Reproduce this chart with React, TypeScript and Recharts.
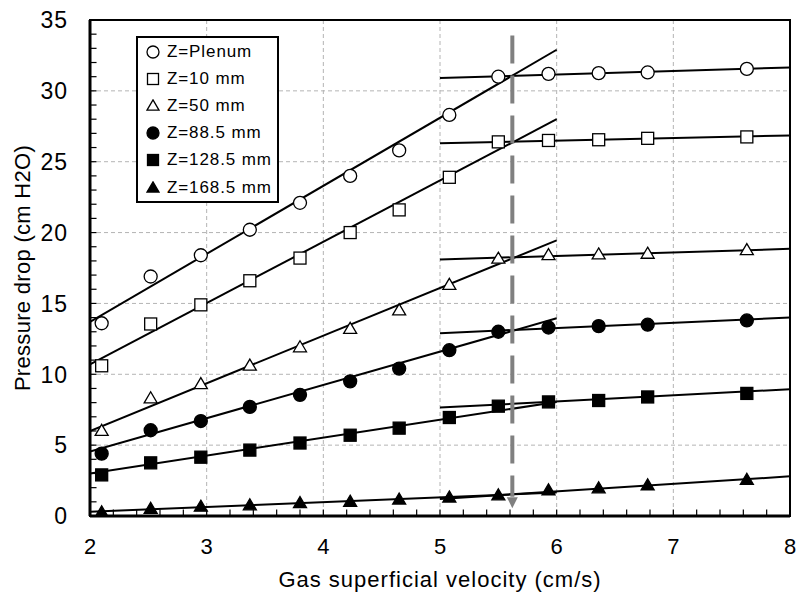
import {
  ComposedChart, Line, Scatter, XAxis, YAxis, CartesianGrid,
  ReferenceLine, ReferenceArea, Legend, Label,
} from 'recharts'

const FONT = '"Liberation Sans", Arial, sans-serif'

// gas superficial velocity (cm/s) for each measured point
const velocity = [2.1, 2.52, 2.95, 3.37, 3.8, 4.23, 4.65, 5.08, 5.5, 5.93, 6.36, 6.78, 7.63]

// pressure drop (cm H2O) per probe position
const plenum = [13.6, 16.9, 18.4, 20.2, 22.1, 24.0, 25.8, 28.3, 31.0, 31.2, 31.25, 31.3, 31.55]
const z10 = [10.6, 13.55, 14.9, 16.6, 18.2, 20.0, 21.6, 23.9, 26.4, 26.5, 26.55, 26.65, 26.75]
const z50 = [6.0, 8.3, 9.3, 10.6, 11.9, 13.2, 14.5, 16.3, 18.15, 18.4, 18.45, 18.5, 18.75]
const z88 = [4.4, 6.05, 6.7, 7.7, 8.55, 9.5, 10.4, 11.7, 13.0, 13.3, 13.4, 13.5, 13.8]
const z128 = [2.9, 3.75, 4.15, 4.65, 5.15, 5.7, 6.2, 6.95, 7.75, 8.05, 8.15, 8.4, 8.65]
const z168 = [0.25, 0.5, 0.65, 0.75, 0.9, 1.0, 1.15, 1.3, 1.45, 1.8, 1.95, 2.15, 2.55]

// linear fits: low-velocity range and high-velocity range (end points)
const lowFitX = [2, 6]
const highFitX = [5, 8]
const plenumLow = [13.7, 32.9]
const plenumHigh = [30.9, 31.65]
const z10Low = [10.7, 28.0]
const z10High = [26.3, 26.85]
const z50Low = [6.0, 19.45]
const z50High = [18.1, 18.85]
const z88Low = [4.55, 13.95]
const z88High = [12.9, 14.0]
const z128Low = [3.0, 8.05]
const z128High = [7.65, 8.95]
const z168Low = [0.3, 1.65]
const z168High = [1.2, 2.8]

// transition velocity marker
const arrowX = 5.62
const arrowTop = 33.9
const arrowEnd = 1.35
const arrowTip = 0.55

const xMajor = [2, 3, 4, 5, 6, 7, 8]
const yMajor = [0, 5, 10, 15, 20, 25, 30, 35]
const xGrid = [3, 4, 5, 6, 7]
const yGrid = [5, 10, 15, 20, 25, 30]
const xMinor = Array.from({ length: 29 }, (_, i) => Math.round((2.2 + i * 0.2) * 10) / 10)
const yMinor = Array.from({ length: 34 }, (_, i) => i + 1)
// inward tick length, in data units (about 6.5px)
const xTickLen = 0.46
const yTickLen = 0.056

type Kind = 'circle' | 'square' | 'triangle'

const series: { name: string; values: number[]; low: number[]; high: number[]; kind: Kind; filled: boolean }[] = [
  { name: 'Z=Plenum', values: plenum, low: plenumLow, high: plenumHigh, kind: 'circle', filled: false },
  { name: 'Z=10 mm', values: z10, low: z10Low, high: z10High, kind: 'square', filled: false },
  { name: 'Z=50 mm', values: z50, low: z50Low, high: z50High, kind: 'triangle', filled: false },
  { name: 'Z=88.5 mm', values: z88, low: z88Low, high: z88High, kind: 'circle', filled: true },
  { name: 'Z=128.5 mm', values: z128, low: z128Low, high: z128High, kind: 'square', filled: true },
  { name: 'Z=168.5 mm', values: z168, low: z168Low, high: z168High, kind: 'triangle', filled: true },
]

function Marker({ kind, filled, cx, cy, s = 13 }: { kind: Kind; filled: boolean; cx: number; cy: number; s?: number }) {
  const fill = filled ? '#000' : '#fff'
  const h = s / 2
  if (kind === 'circle') return <circle cx={cx} cy={cy} r={h} fill={fill} stroke="#000" strokeWidth={1.3} />
  if (kind === 'square') return <rect x={cx - h + 0.5} y={cy - h + 0.5} width={s - 1} height={s - 1} fill={fill} stroke="#000" strokeWidth={1.3} />
  const th = s * 0.85
  return (
    <polygon
      points={`${cx},${cy - th * 0.6} ${cx + h},${cy + th * 0.4} ${cx - h},${cy + th * 0.4}`}
      fill={fill} stroke="#000" strokeWidth={1.3} strokeLinejoin="miter"
    />
  )
}

function XTick(props: any) {
  const { x, y, payload } = props
  return <text x={x} y={y + 38} textAnchor="middle" fontSize={22} fontFamily={FONT} fill="#000">{payload.value}</text>
}

function YTick(props: any) {
  const { x, y, payload } = props
  return (
    <text x={x - 22} y={y} dy="0.36em" textAnchor="end" fontSize={23} letterSpacing={1} fontFamily={FONT} fill="#000">{payload.value}</text>
  )
}

function LegendBox() {
  return (
    <div style={{
      width: 143, height: 167, boxSizing: 'border-box', border: '2px solid #000', background: '#fff',
      fontFamily: FONT, fontSize: 17, letterSpacing: 0.9, color: '#000',
    }}>
      {series.map(s => (
        <div key={s.name} style={{ height: 27.2, display: 'flex', alignItems: 'center', whiteSpace: 'nowrap' }}>
          <svg width={14} height={14} style={{ marginLeft: 8, marginRight: 7, flex: 'none' }}>
            <Marker kind={s.kind} filled={s.filled} cx={7} cy={7} s={12} />
          </svg>
          <span>{s.name}</span>
        </div>
      ))}
    </div>
  )
}

export default function App() {
  return (
    <div style={{ position: 'absolute', left: 0, top: 0, width: 798, height: 597, background: '#fff' }}>
      <ComposedChart width={798} height={597} margin={{ top: 20, right: 8, bottom: 0, left: 0 }}>
        <CartesianGrid
          stroke="#b4b4b4" strokeDasharray="4 3"
          verticalValues={xGrid} horizontalValues={yGrid}
        />
        <XAxis
          type="number" dataKey="x" domain={[2, 8]} ticks={xMajor} interval={0}
          tickSize={0} tickMargin={0} tick={XTick} tickLine={false}
          axisLine={{ stroke: '#000', strokeWidth: 3 }} height={81} allowDataOverflow
        >
          <Label
            value="Gas superficial velocity (cm/s)" position="insideBottom" offset={10}
            style={{ fontSize: 22, letterSpacing: 1, fontFamily: FONT, fill: '#000' }}
          />
        </XAxis>
        <YAxis
          type="number" dataKey="y" domain={[0, 35]} ticks={yMajor} interval={0}
          tickSize={0} tickMargin={0} tick={YTick} tickLine={false}
          axisLine={{ stroke: '#000', strokeWidth: 3 }} width={90} allowDataOverflow
        >
          <Label
            content={(p: any) => {
              const vb = p.viewBox
              const cx = vb.x + 22
              const cy = vb.y + vb.height / 2
              return (
                <text x={cx} y={cy} transform={`rotate(-90 ${cx} ${cy})`} textAnchor="middle" dy="0.36em"
                  fontSize={22} letterSpacing={0.3} fontFamily={FONT} fill="#000">
                  Pressure drop (cm H2O)
                </text>
              )
            }}
          />
        </YAxis>
        <Legend
          layout="vertical" align="center" verticalAlign="middle"
          wrapperStyle={{ position: 'absolute', left: 136, top: 36, width: 143, height: 167 }}
          content={() => <LegendBox />}
        />
        {xMinor.map(v => (
          <ReferenceLine key={'xt' + v} segment={[{ x: v, y: 0 }, { x: v, y: xTickLen }]} stroke="#000" strokeWidth={1.2} ifOverflow="visible" />
        ))}
        {yMinor.map(v => (
          <ReferenceLine key={'yt' + v} segment={[{ x: 2, y: v }, { x: 2 + yTickLen, y: v }]} stroke="#000" strokeWidth={1.2} ifOverflow="visible" />
        ))}
        {series.map(s => (
          <Line
            key={s.name + '-low'} data={lowFitX.map((x, i) => ({ x, y: s.low[i] }))} dataKey="y"
            stroke="#000" strokeWidth={2} dot={false} activeDot={false} isAnimationActive={false} legendType="none"
          />
        ))}
        {series.map(s => (
          <Line
            key={s.name + '-high'} data={highFitX.map((x, i) => ({ x, y: s.high[i] }))} dataKey="y"
            stroke="#000" strokeWidth={2} dot={false} activeDot={false} isAnimationActive={false} legendType="none"
          />
        ))}
        <ReferenceLine
          segment={[{ x: arrowX, y: arrowTop }, { x: arrowX, y: arrowEnd }]}
          stroke="#808080" strokeWidth={4} strokeDasharray="28 12"
        />
        <Scatter
          data={[{ x: arrowX, y: arrowTip }]} dataKey="y" isAnimationActive={false} legendType="none"
          shape={(p: any) => (
            <polygon points={`${p.cx - 5.5},${p.cy - 11} ${p.cx + 5.5},${p.cy - 11} ${p.cx},${p.cy}`} fill="#808080" />
          )}
        />
        {series.map(s => (
          <Scatter
            key={s.name} name={s.name} data={velocity.map((x, i) => ({ x, y: s.values[i] }))} dataKey="y"
            isAnimationActive={false}
            shape={(p: any) => <Marker kind={s.kind} filled={s.filled} cx={p.cx} cy={p.cy} />}
          />
        ))}
        <ReferenceArea x1={2} x2={8} y1={0} y2={35} fill="none" fillOpacity={0} stroke="#000" strokeWidth={2} />
      </ComposedChart>
    </div>
  )
}
